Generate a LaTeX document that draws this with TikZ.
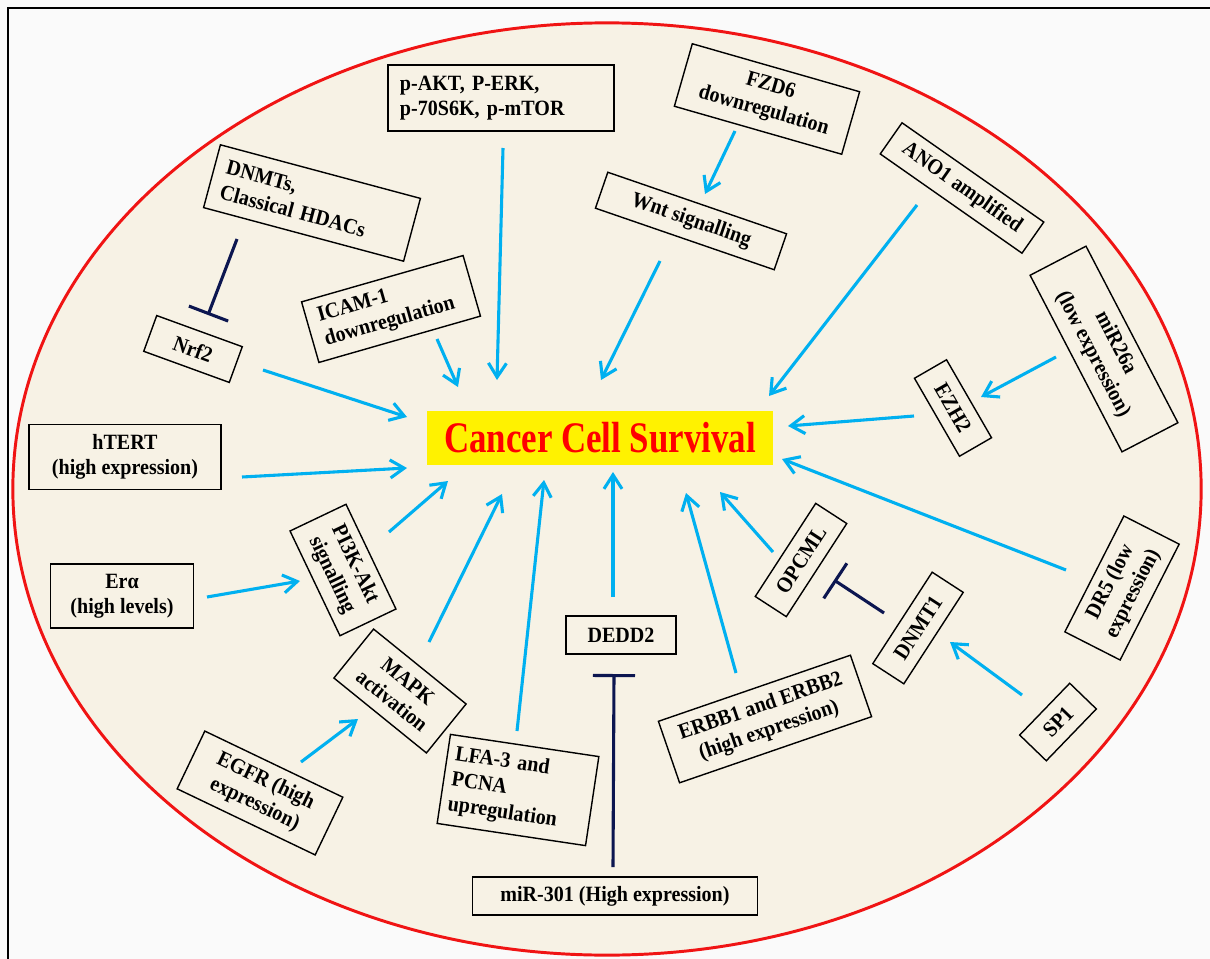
\documentclass[tikz,border=0pt]{standalone}
\usepackage{fontspec}
\setmainfont{Liberation Serif}[FakeStretch=0.92]
\newfontfamily\titlefont{Liberation Serif}[FakeStretch=0.8]
\usetikzlibrary{arrows.meta,calc}
\definecolor{fondo}{RGB}{250,250,250}
\definecolor{crema}{RGB}{247,242,229}
\definecolor{rojo}{RGB}{240,20,20}
\definecolor{azul}{RGB}{0,176,240}
\definecolor{marino}{RGB}{12,22,80}
\tikzset{
  caja/.style={draw, line width=1pt, fill=crema, inner sep=0.15cm, align=center,
    font=\bfseries\fontsize{15.5}{18}\selectfont},
  activ/.style={azul, line width=2.2pt, -{Straight Barb[length=0.35cm,width=0.45cm]}},
  inhib/.style={marino, line width=2.2pt, -{Bar[width=1.05cm]}}
}
\begin{document}
\begin{tikzpicture}[x=0.025cm, y=-0.025cm]
                    \useasboundingbox (0,0) rectangle (1210,959);
                    % Fondo y marco
                    \fill [fondo] (0,0) rectangle (1210,959);
                    \draw [line width=1.8pt] (8,959) -- (8,8) -- (1210,8);
                    % Celula
                    \filldraw [rojo, fill=crema, line width=2.1pt] (607,489) ellipse [x radius=14.85cm, y radius=11.65cm];
                    % Nodo central
                    \node [fill=yellow, minimum width=8.65cm, minimum height=1.35cm, text=red,
                      font=\titlefont\bfseries\fontsize{31}{36}\selectfont] (main) at (600,438) {Cancer Cell Survival};
                    % Factores de arriba
                    \node [caja, text width=5.05cm, align=left, inner xsep=0.3cm, minimum height=1.65cm] (pakt) at (501,98) {p-AKT, P-ERK,\\p-70S6K, p-mTOR};
                    \node [caja, rotate=-16, minimum width=4.35cm, minimum height=1.625cm] (fzd) at (767,99) {FZD6\\downregulation};
                    \node [caja, rotate=-19, minimum width=4.725cm, minimum height=0.95cm] (wnt) at (691,221) {Wnt signalling};
                    \node [caja, rotate=-35, minimum width=4.325cm, minimum height=0.95cm] (ano) at (962,188) {ANO1 amplified};
                    \node [caja, rotate=-15, text width=4.575cm, align=left, inner xsep=0.3cm, minimum height=1.625cm] (dnmts) at (312,203) {DNMTs,\\Classical HDACs};
                    \node [caja, rotate=16, text width=3.6cm, align=left, inner xsep=0.3cm, minimum height=1.575cm] (icam) at (391,309) {ICAM-1\\downregulation};
                    \node [caja, rotate=-20, minimum width=2.275cm, minimum height=0.95cm] (nrf) at (193,349) {Nrf2};
                    % Factores de la derecha
                    \node [caja, rotate=-62.5, minimum width=4.975cm, minimum height=1.575cm] (mir26) at (1104,349) {miR26a\\(low expression)};
                    \node [caja, rotate=-60, minimum width=2.25cm, minimum height=0.925cm] (ezh) at (953,408) {EZH2};
                    \node [caja, rotate=63, minimum width=3.25cm, minimum height=1.55cm] (dr5) at (1122,588) {DR5 (low\\expression)};
                    \node [caja, rotate=57, minimum width=2.775cm, minimum height=0.925cm] (opcml) at (801,560) {OPCML};
                    \node [caja, rotate=57, minimum width=2.725cm, minimum height=0.925cm] (dnmt) at (918,628) {DNMT1};
                    \node [caja, rotate=46, minimum width=1.8cm, minimum height=0.925cm] (sp) at (1058,722) {SP1};
                    \node [caja, rotate=19, minimum width=5.075cm, minimum height=1.625cm] (erbb) at (765,719) {ERBB1 and ERBB2\\(high expression)};
                    % Factores de abajo
                    \node [caja, minimum width=2.75cm, minimum height=0.95cm] (dedd) at (621,635) {DEDD2};
                    \node [caja, minimum width=7.125cm, minimum height=0.95cm] (mir301) at (615,896) {miR-301 (High expression)};
                    \node [caja, rotate=-8.5, text width=3.35cm, align=left, inner xsep=0.2cm, minimum height=2.25cm] (lfa) at (518,790) {LFA-3 and\\PCNA\\upregulation};
                    \node [caja, rotate=-39, minimum width=2.975cm, minimum height=1.575cm] (mapk) at (400,691) {MAPK\\activation};
                    \node [caja, rotate=-25.6, minimum width=3.825cm, minimum height=1.6cm] (egfr) at (260,793) {EGFR (high\\expression)};
                    \node [caja, rotate=-64.5, minimum width=2.9cm, minimum height=1.55cm] (pik) at (343,570) {PI3K-Akt\\signalling};
                    % Factores de la izquierda
                    \node [caja, minimum width=3.575cm, minimum height=1.6cm] (era) at (122,596) {Erα\\(high levels)};
                    \node [caja, minimum width=4.8cm, minimum height=1.625cm] (htert) at (125,457) {hTERT\\(high expression)};
                    % Activaciones
                    \draw [activ] ($(pakt)+(2,50)$) -- ($(main)+(-103,-58)$);
                    \draw [activ] ($(fzd)+(-32,32)$) -- ($(wnt)+(14,-27)$);
                    \draw [activ] ($(wnt)+(-31,40)$) -- ($(main)+(1,-58)$);
                    \draw [activ] ($(ano)+(-45,17)$) -- ($(main)+(169,-42)$);
                    \draw [activ] ($(mir26)+(-48,8)$) -- ($(ezh)+(28,-11)$);
                    \draw [activ] ($(ezh)+(-39,8)$) -- ($(main)+(188,-12)$);
                    \draw [activ] ($(dr5)+(-56,-18)$) -- ($(main)+(182,21)$);
                    \draw [activ] ($(opcml)+(-28,-8)$) -- ($(main)+(120,54)$);
                    \draw [activ] ($(erbb)+(-29,-46)$) -- ($(main)+(86,55)$);
                    \draw [activ] ($(sp)+(-36,-27)$) -- ($(dnmt)+(32,14)$);
                    \draw [activ] ($(dedd)+(-8,-38)$) -- ($(main)+(13,34)$);
                    \draw [activ] ($(lfa)+(-1,-59)$) -- ($(main)+(-56,42)$);
                    \draw [activ] ($(mapk)+(29,-49)$) -- ($(main)+(-98,56)$);
                    \draw [activ] ($(egfr)+(41,-31)$) -- ($(mapk)+(-42,28)$);
                    \draw [activ] ($(pik)+(46,-38)$) -- ($(main)+(-152,43)$);
                    \draw [activ] ($(era)+(85,1)$) -- ($(pik)+(-43,11)$);
                    \draw [activ] ($(htert)+(117,20)$) -- ($(main)+(-193,30)$);
                    \draw [activ] ($(nrf)+(70,21)$) -- ($(main)+(-193,-21)$);
                    \draw [activ] ($(icam)+(46,30)$) -- ($(main)+(-142,-51)$);
                    % Inhibiciones
                    \draw [inhib] ($(dnmts)+(-75,36)$) -- ($(nrf)+(15,-34)$);
                    \draw [inhib] ($(dnmt)+(-34,-15)$) -- ($(opcml)+(33,20)$);
                    \draw [inhib] ($(mir301)+(-2,-29)$) -- ($(dedd)+(-7,39)$);
                \end{tikzpicture}
\end{document}
